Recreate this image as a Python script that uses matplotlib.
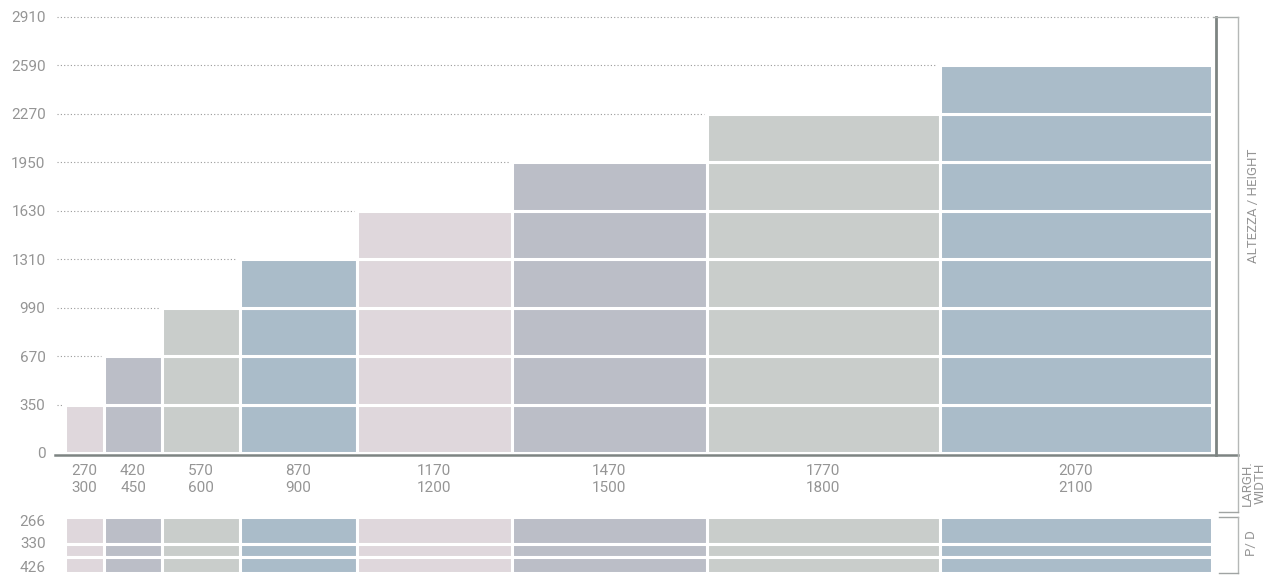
import numpy as np
import matplotlib.pyplot as plt
from matplotlib.lines import Line2D

# data
width_min = [270, 420, 570, 870, 1170, 1470, 1770, 2070]
width_max = [300, 450, 600, 900, 1200, 1500, 1800, 2100]
height_ticks = [0, 350, 670, 990, 1310, 1630, 1950, 2270, 2590, 2910]
col_height = [350, 670, 990, 1310, 1630, 1950, 2270, 2590]
depths = [266, 330, 426]

colors = ['#dfd7dc', '#bbbec7', '#c9cdcb', '#aabcc9']
txt = '#959595'
dark = '#7d8482'

W, H = 1275, 577
plt.rcParams['font.family'] = ['Roboto', 'DejaVu Sans']
fig = plt.figure(figsize=(W / 100, H / 100), dpi=100)

def px(x0, y0, x1, y1):
    # pixel box (top-left origin) -> figure fraction rect
    return [x0 / W, 1 - y1 / H, (x1 - x0) / W, (y1 - y0) / H]

lefts = np.concatenate([[0], np.cumsum(width_max)[:-1]])
total = sum(width_max)

# main chart: heights on an evenly spaced (categorical) scale
ax = fig.add_axes(px(65, 17, 1212, 453))
ax.set_xlim(0, total)
ax.set_ylim(0, len(height_ticks) - 1)
for i, (l, w, h) in enumerate(zip(lefts, width_max, col_height)):
    n = height_ticks.index(h)
    ax.bar([l] * n, [1] * n, bottom=np.arange(n), width=w, align='edge',
           color=colors[i % 4], edgecolor='white', linewidth=2.2)

# dotted guides from the labels to the first column reaching that level
for k in range(1, len(height_ticks)):
    reach = [l for l, h in zip(lefts, col_height) if height_ticks.index(h) >= k]
    x_end = reach[0] if reach else total
    ax.plot([-62, x_end - 20], [k, k], color='#9a9a9a', lw=0.8,
            ls=(0, (1, 2)), clip_on=False, zorder=0)

ax.set_yticks(range(len(height_ticks)))
ax.set_yticklabels([str(v) for v in height_ticks])
ax.set_xticks(lefts + np.array(width_max) / 2)
ax.set_xticklabels([f'{a}\n{b}' for a, b in zip(width_min, width_max)],
                   linespacing=1.25)
ax.tick_params(length=0, colors=txt, labelsize=11, pad=8)
ax.tick_params(axis='y', pad=14)
for s in ax.spines.values():
    s.set_visible(False)

# depth strip
ax2 = fig.add_axes(px(65, 517, 1212, 573))
ax2.set_xlim(0, total)
ax2.set_ylim(56, 0)
rows = [(0, 26.5), (26.5, 13.5), (40, 16)]
for i, (l, w) in enumerate(zip(lefts, width_max)):
    for b, hgt in rows:
        ax2.bar(l, hgt, bottom=b, width=w, align='edge',
                color=colors[i % 4], edgecolor='white', linewidth=2.2)
ax2.set_yticks([3, 26, 49])
ax2.set_yticklabels([str(d) for d in depths])
ax2.set_xticks([])
ax2.tick_params(length=0, colors=txt, labelsize=11, pad=14)
for s in ax2.spines.values():
    s.set_visible(False)

# frame lines on the right and the baseline (pixel coords)
def hline(x0, x1, y, **kw):
    fig.add_artist(Line2D([x0 / W, x1 / W], [1 - y / H, 1 - y / H], **kw))

def vline(x, y0, y1, **kw):
    fig.add_artist(Line2D([x / W, x / W], [1 - y0 / H, 1 - y1 / H], **kw))

hline(55, 1238, 455, color=dark, lw=1.8)
vline(1216, 17, 455, color=dark, lw=2)
hline(1213, 1238, 17, color='#a9aeac', lw=1)
vline(1238, 17, 512, color='#b5b8b7', lw=1)
hline(1219, 1238, 512, color='#a0a4a3', lw=1)
hline(1219, 1238, 517, color='#a0a4a3', lw=1)
vline(1238, 517, 573, color='#b5b8b7', lw=1)
hline(1219, 1238, 573, color='#a0a4a3', lw=1)

fig.text(1253 / W, 1 - 206 / H, 'ALTEZZA / HEIGHT', rotation=90, color=txt,
         fontsize=9.5, ha='center', va='center')
fig.text(1254 / W, 1 - 483 / H, 'LARGH.\nWIDTH', rotation=90, color=txt,
         fontsize=9.5, ha='center', va='center', linespacing=0.95)
fig.text(1252 / W, 1 - 543 / H, 'P/ D', rotation=90, color=txt,
         fontsize=9.5, ha='center', va='center')

fig.savefig('out.png', dpi=100)
